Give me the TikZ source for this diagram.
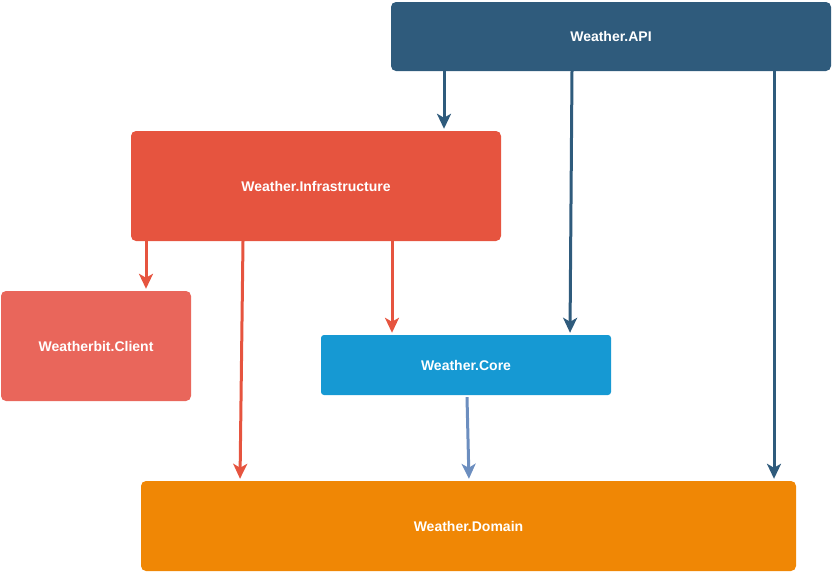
\documentclass[tikz,border=0pt]{standalone}
\usepackage{fontspec}
\setmainfont{Liberation Sans}
\usetikzlibrary{arrows.meta}
\definecolor{apiblue}{HTML}{2F5B7C}
\definecolor{infrared}{HTML}{E6543F}
\definecolor{clientred}{HTML}{E9665B}
\definecolor{coreblue}{HTML}{1699D3}
\definecolor{domainorange}{HTML}{F08705}
\definecolor{linkblue}{HTML}{6C8EBF}
\tikzset{
  box/.style={rectangle, rounded corners=5pt, inner sep=0pt, text=white, font=\bfseries\fontsize{14}{16}\selectfont},
  dep/.style={line width=3pt, -{Stealth[length=15pt,width=14pt,inset=4pt]}, shorten >=2pt},
}
\begin{document}
\begin{tikzpicture}[x=1pt,y=-1pt]
\useasboundingbox (0,0) rectangle (833,573);
\node[box, fill=apiblue, minimum width=440pt, minimum height=69pt] (api) at (611,36.5) {Weather.API};
\node[box, fill=infrared, minimum width=370pt, minimum height=110pt] (infra) at (316,186) {Weather.Infrastructure};
\node[box, fill=clientred, minimum width=190pt, minimum height=110pt] (client) at (96,346) {Weatherbit.Client};
\node[box, fill=coreblue, minimum width=290pt, minimum height=60pt, rounded corners=3pt] (core) at (466,365) {Weather.Core};
\node[box, fill=domainorange, minimum width=655pt, minimum height=90pt] (domain) at (468.5,526) {Weather.Domain};

\draw[dep, apiblue] ([xshift=-167pt]api.south) -- ([xshift=128pt]infra.north);
\draw[dep, apiblue] ([xshift=-39pt]api.south) -- ([xshift=104pt]core.north);
\draw[dep, apiblue] ([xshift=163pt]api.south) -- ([xshift=305.5pt]domain.north);
\draw[dep, infrared] ([xshift=-170pt]infra.south) -- ([xshift=50pt]client.north);
\draw[dep, infrared] ([xshift=-73pt]infra.south) -- ([xshift=-228.5pt]domain.north);
\draw[dep, infrared] ([xshift=76pt]infra.south) -- ([xshift=-74pt]core.north);
\draw[dep, linkblue] ([yshift=-2pt,xshift=1pt]core.south) -- ([xshift=0.5pt]domain.north);
\end{tikzpicture}
\end{document}
